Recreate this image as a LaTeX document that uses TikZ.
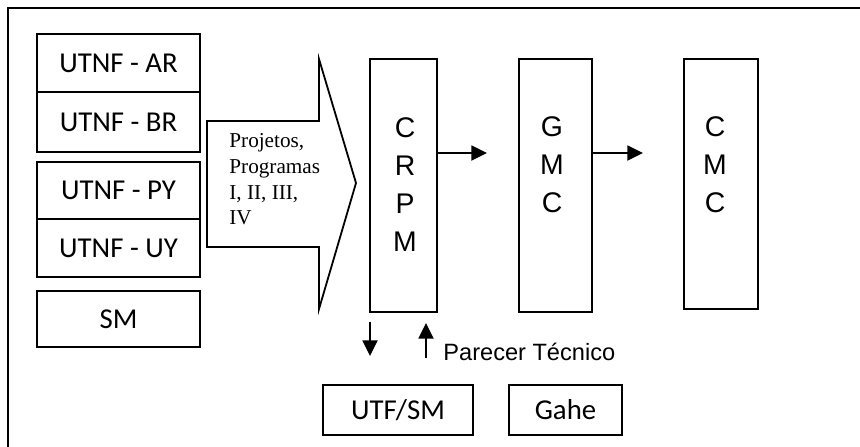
\documentclass[tikz,border=0pt]{standalone}
\usepackage{fontspec}
\setmainfont{Liberation Serif}
\newfontfamily\calibri{Carlito}
\newfontfamily\arial{Liberation Sans}
\usetikzlibrary{calc, positioning, arrows.meta}

\tikzset{
    box/.style={draw, line width=0.9pt, inner sep=0pt, minimum height=29pt,
                font=\calibri\fontsize{14.4}{16}\selectfont},
    utnf/.style={box, minimum width=81.5pt},
    tallbox/.style={draw, line width=0.9pt, inner sep=0pt, minimum height=126.5pt},
    letters/.style={anchor=north, inner sep=0pt, align=center,
                    font=\arial\fontsize{14.2}{19.1}\selectfont},
    flow/.style={->, line width=0.9pt}
}

\begin{document}
\begin{tikzpicture}[>={Triangle[length=7.8pt, width=7.5pt]}, x=0.5pt, y=-0.5pt]

    % =================================================================
    % 1. KHUNG NGOÀI
    % =================================================================
    \useasboundingbox (0,0) rectangle (860,446);
    \draw[line width=1.2pt] (8,8) rectangle (880,470);

    % =================================================================
    % 2. CÁC ĐƠN VỊ BÊN TRÁI
    % =================================================================
    \node[utnf, minimum height=29pt] (ar) at (118.5,63) {UTNF - AR};
    \node[utnf, minimum height=30pt] (br) at (118.5,122) {UTNF - BR};
    \node[utnf, minimum height=28.5pt] (py) at (118.5,190.5) {UTNF - PY};
    \node[utnf, minimum height=29pt] (uy) at (118.5,248) {UTNF - UY};
    \node[utnf, minimum height=28pt] (sm) at (118.5,319) {SM};

    % =================================================================
    % 3. MŨI TÊN LỚN (PROJETOS, PROGRAMAS)
    % =================================================================
    \draw[line width=0.9pt] (207,121) -- (319,121) -- (319,59) -- (356,183)
        -- (319,309) -- (319,247) -- (207,247) -- cycle;
    \node[anchor=north west, inner sep=0pt, align=left,
          font=\fontsize{10.6}{12.9}\selectfont] (proj) at (229,133)
        {Projetos,\\Programas\\I, II, III,\\IV};

    % =================================================================
    % 4. CÁC KHỐI CRPM, GMC, CMC
    % =================================================================
    \node[tallbox, minimum width=33.5pt] (crpm) at (403.5,185.5) {};
    \node[tallbox, minimum width=36.5pt] (gmc) at (555.5,185.5) {};
    \node[tallbox, minimum width=37pt, minimum height=125pt] (cmc) at (721,184) {};

    \node[letters] (crpmtxt) at (405,117) {C\\R\\P\\M};
    \node[letters] (gmctxt) at (552,116) {G\\M\\C};
    \node[letters] (cmctxt) at (715,116) {C\\M\\C};

    % Mũi tên ngang
    \coordinate (crpmout) at (437,153);
    \coordinate (gmcin) at (487,153);
    \coordinate (gmcout) at (592,153);
    \coordinate (cmcin) at (643,153);
    \draw[flow] (crpmout) -- (gmcin);
    \draw[flow] (gmcout) -- (cmcin);

    % =================================================================
    % 5. MŨI TÊN DỌC VÀ CÁC KHỐI BÊN DƯỚI
    % =================================================================
    \coordinate (downtop) at (370,322);
    \coordinate (downend) at (370,356);
    \coordinate (upbot) at (426,358);
    \coordinate (uptop) at (426,323);
    \draw[flow] (downtop) -- (downend);
    \draw[flow] (upbot) -- (uptop);

    \node[anchor=base west, inner sep=0pt, font=\arial\fontsize{11.8}{14}\selectfont]
        (parecer) at (443,360) {Parecer Técnico};

    \node[box, minimum width=75pt, minimum height=25pt] (utf) at (398,410) {UTF/SM};
    \node[box, minimum width=56.5pt, minimum height=25pt] (gahe) at (565.5,410) {Gahe};

\end{tikzpicture}
\end{document}
